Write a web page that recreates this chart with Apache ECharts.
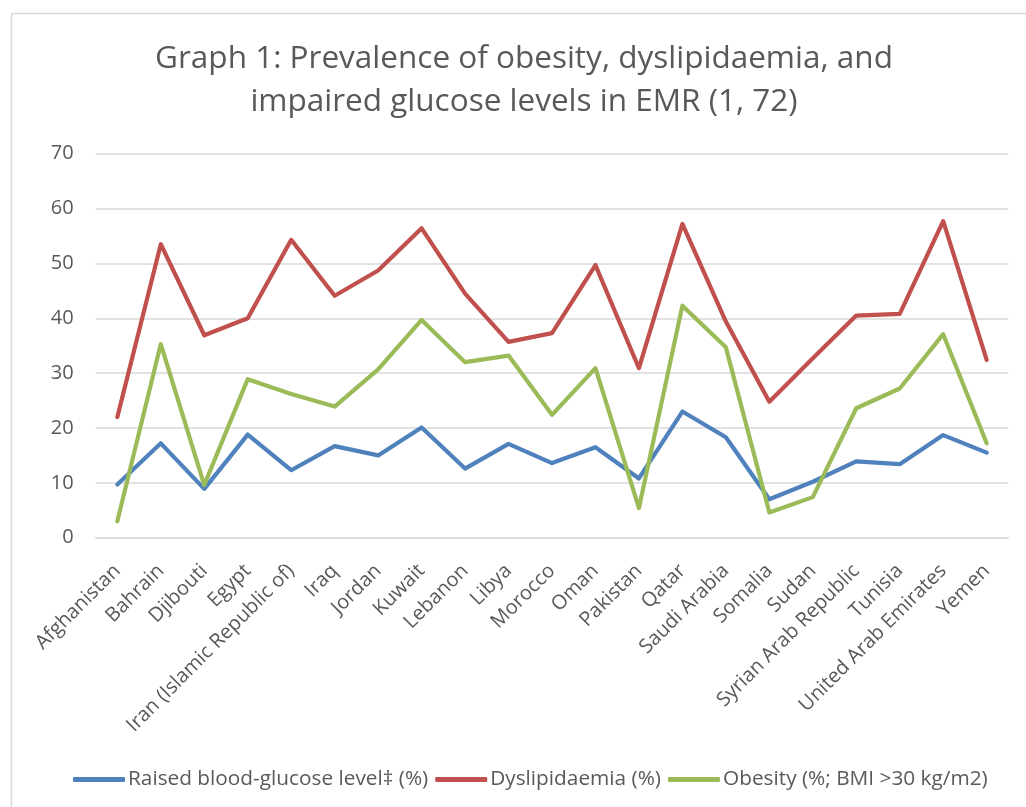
<!DOCTYPE html>
<html>
<head>
<meta charset="utf-8">
<title>Graph 1: Prevalence of obesity, dyslipidaemia, and impaired glucose levels in EMR</title>
<script src="https://cdn.jsdelivr.net/npm/echarts@6/dist/echarts.min.js"></script>
<style>
  html, body { margin: 0; padding: 0; background: #ffffff; }
  #chart { width: 1026px; height: 807px; }
</style>
</head>
<body>
<div id="chart"></div>
<script>
// Countries of the Eastern Mediterranean Region
const countries = [
  'Afghanistan', 'Bahrain', 'Djibouti', 'Egypt', 'Iran (Islamic Republic of)',
  'Iraq', 'Jordan', 'Kuwait', 'Lebanon', 'Libya', 'Morocco', 'Oman', 'Pakistan',
  'Qatar', 'Saudi Arabia', 'Somalia', 'Sudan', 'Syrian Arab Republic', 'Tunisia',
  'United Arab Emirates', 'Yemen'
];

// Prevalence (%) per country
const raisedGlucose = [9.7, 17.2, 8.9, 18.8, 12.3, 16.7, 15.0, 20.1, 12.6, 17.1, 13.6,
                       16.5, 10.8, 23.0, 18.3, 7.0, 10.2, 13.9, 13.4, 18.7, 15.5];
const dyslipidaemia = [22.0, 53.5, 36.9, 40.0, 54.3, 44.1, 48.7, 56.4, 44.5, 35.7, 37.3,
                       49.7, 30.9, 57.2, 39.4, 24.8, 32.7, 40.5, 40.8, 57.7, 32.4];
const obesity = [3.0, 35.3, 9.6, 28.9, 26.2, 23.9, 30.7, 39.7, 32.0, 33.2, 22.4,
                 30.9, 5.4, 42.3, 34.7, 4.6, 7.4, 23.6, 27.2, 37.1, 17.2];

const seriesNames = [
  'Raised blood-glucose level\u2021 (%)',
  'Dyslipidaemia (%)',
  'Obesity (%; BMI >30 kg/m2)'
];
const seriesColors = ['#4F81BD', '#C0504D', '#9BBB59'];
const yTicks = { min: 0, max: 70, step: 10 };

const textColor = '#595959';
const gridColor = '#d9d9d9';
const font = '"Open Sans", "Liberation Sans", sans-serif';

const chart = echarts.init(document.getElementById('chart'), null, { renderer: 'canvas' });

function lineSeries(name, data, color) {
  return {
    name: name,
    type: 'line',
    data: data,
    symbol: 'none',
    smooth: false,
    lineStyle: { color: color, width: 4.2, cap: 'round', join: 'round' },
    itemStyle: { color: color },
    emphasis: { disabled: true }
  };
}

chart.setOption({
  animation: false,
  backgroundColor: '#ffffff',
  graphic: [{
    type: 'rect',
    shape: { x: 11.5, y: 13.5, width: 1100, height: 900 },
    style: { fill: 'none', stroke: gridColor, lineWidth: 1.5 },
    silent: true,
    z: -1
  }],
  title: {
    text: 'Graph 1: Prevalence of obesity, dyslipidaemia, and\nimpaired glucose levels in EMR (1, 72)',
    left: 519,
    top: 33,
    padding: 5,
    textAlign: 'center',
    textStyle: {
      color: textColor,
      fontFamily: font,
      fontWeight: 'normal',
      fontSize: 31.5,
      lineHeight: 43
    }
  },
  legend: {
    data: seriesNames,
    left: 68,
    top: 764,
    icon: 'roundRect',
    itemWidth: 52,
    itemHeight: 5,
    itemGap: 7,
    textStyle: { color: textColor, fontFamily: font, fontSize: 20.8, padding: [0, 0, 0, -2] }
  },
  grid: {
    left: 95.6,
    right: 17.6,
    top: 153.7,
    bottom: 269.3,
    containLabel: false
  },
  xAxis: {
    type: 'category',
    data: countries,
    boundaryGap: true,
    axisLine: { lineStyle: { color: gridColor, width: 1.5 } },
    axisTick: { show: false },
    axisLabel: {
      interval: 0,
      rotate: 45,
      margin: 30,
      color: textColor,
      fontFamily: font,
      fontSize: 20
    }
  },
  yAxis: {
    type: 'value',
    min: yTicks.min,
    max: yTicks.max,
    interval: yTicks.step,
    axisLine: { show: false },
    axisTick: { show: false },
    splitLine: { lineStyle: { color: gridColor, width: 1.5 } },
    axisLabel: {
      margin: 22,
      color: textColor,
      fontFamily: font,
      fontSize: 20
    }
  },
  series: [
    lineSeries(seriesNames[0], raisedGlucose, seriesColors[0]),
    lineSeries(seriesNames[1], dyslipidaemia, seriesColors[1]),
    lineSeries(seriesNames[2], obesity, seriesColors[2])
  ]
});
</script>
</body>
</html>
